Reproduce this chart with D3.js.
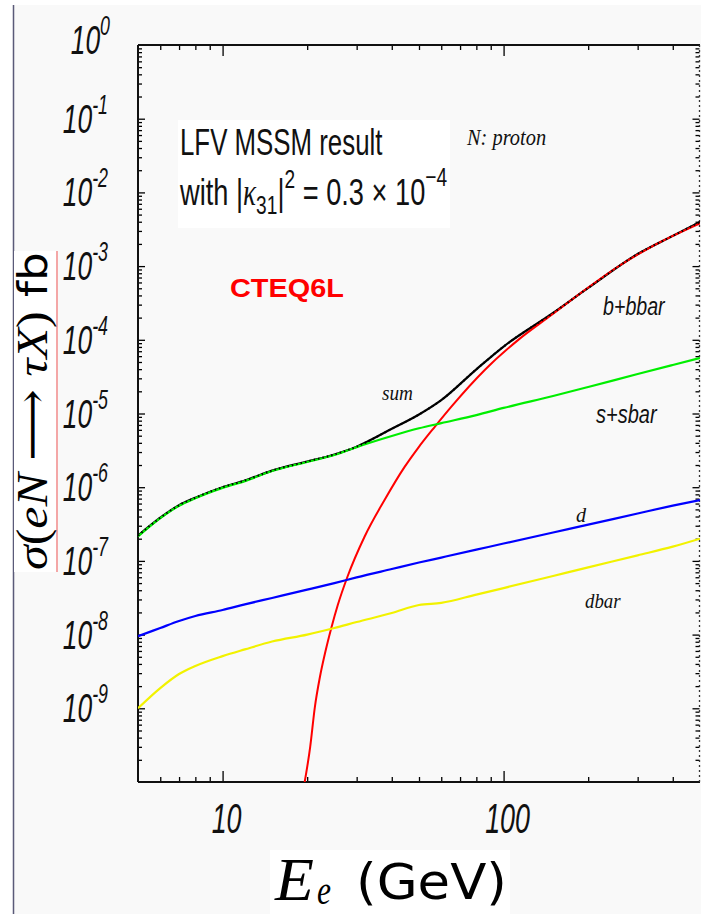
<!DOCTYPE html>
<html><head><meta charset="utf-8">
<script src="https://cdn.jsdelivr.net/npm/d3@7"></script>
<style>html,body{margin:0;padding:0;background:#fff;} svg{display:block}</style>
</head><body><svg id="c" width="701" height="914"></svg>
<script>
// ---- data ----
const energies = [5,6,7,8,10,12,15,20,25,30,40,50,60,80,100,150,200,300,400,500];
const sSbar  = [2.15e-7,3.8e-7,5.6e-7,7.1e-7,9.8e-7,1.21e-6,1.66e-6,2.2e-6,2.73e-6,3.5e-6,4.95e-6,6.3e-6,7.4e-6,9.5e-6,1.19e-5,1.73e-5,2.29e-5,3.43e-5,4.55e-5,5.66e-5];
const dQuark = [9.5e-9,1.23e-8,1.53e-8,1.79e-8,2.16e-8,2.57e-8,3.14e-8,4.07e-8,5.0e-8,5.97e-8,7.76e-8,9.5e-8,1.11e-7,1.42e-7,1.72e-7,2.43e-7,3.1e-7,4.4e-7,5.62e-7,6.7e-7];
const dBar   = [1.0e-9,1.88e-9,2.92e-9,3.75e-9,5.1e-9,6.3e-9,8.05e-9,1.0e-8,1.23e-8,1.48e-8,1.96e-8,2.52e-8,2.69e-8,3.49e-8,4.28e-8,6.25e-8,8.18e-8,1.19e-7,1.56e-7,2.0e-7];
const sumAll = [2.2e-7,3.85e-7,5.7e-7,7.2e-7,1.0e-6,1.23e-6,1.68e-6,2.23e-6,2.78e-6,3.55e-6,6.2e-6,9.7e-6,1.52e-5,3.98e-5,8.1e-5,2.31e-4,5.05e-4,1.46e-3,2.57e-3,3.98e-3];
const bEnergies = [19.5,20.5,21.3,22.2,23.2,24.4,25.7,27.8,32,37.7,44.5,49.6,56.9,65.2,85.7,112.5,148,194.5,255,335.5,500];
const bBbar  = [9e-11,3.0e-10,1.04e-9,2.66e-9,5.8e-9,1.25e-8,2.52e-8,6.05e-8,2.13e-7,6.7e-7,1.9e-6,3.4e-6,6.6e-6,1.24e-5,3.9e-5,9.9e-5,2.17e-4,4.74e-4,9.8e-4,1.83e-3,3.8e-3];
const yExponents = [0,-1,-2,-3,-4,-5,-6,-7,-8,-9];
const xTickLabels = [10,100];
const seriesLabels = ["b+bbar","s+sbar","sum","d","dbar"];

// ---- layout ----
const svg = d3.select("#c");
const L = 138, R = 700, T = 45, B = 782;
const x = d3.scaleLog().domain([5,500]).range([L,R]);
const y = d3.scaleLog().domain([1e-10,1]).range([B,T]);

svg.append("rect").attr("x",0).attr("y",0).attr("width",701).attr("height",914).attr("fill","#fff");
svg.append("rect").attr("x",13).attr("y",5).attr("width",688).attr("height",909).attr("fill","#f9f9f9");
svg.append("line").attr("x1",13.5).attr("x2",13.5).attr("y1",5).attr("y2",914).attr("stroke","#5a5a78").attr("stroke-width",1.5);

function fitScale(textSel, w){ const b = textSel.node().getBBox(); return w / b.width; }

// ---- ticks ----
const minorX = [6,7,8,9,20,30,40,50,60,70,80,90,200,300,400];
const majorY = d3.range(-9,0).map(e=>Math.pow(10,e));
const minorY = [];
for (let e=-10;e<0;e++) for (let k=2;k<=9;k++) minorY.push(k*Math.pow(10,e));

function drawAxis(axis, transform){
  const g = svg.append("g").attr("transform",transform).call(axis);
  g.select(".domain").remove();
  g.selectAll("text").remove();
  g.selectAll("line").attr("stroke","#000").attr("stroke-width",1.3);
  return g;
}
drawAxis(d3.axisBottom(x).tickValues(xTickLabels).tickSizeInner(-11).tickSizeOuter(0), `translate(0,${B})`);
drawAxis(d3.axisBottom(x).tickValues(minorX).tickSizeInner(-5).tickSizeOuter(0), `translate(0,${B})`);
drawAxis(d3.axisTop(x).tickValues(xTickLabels).tickSizeInner(-11).tickSizeOuter(0), `translate(0,${T})`);
drawAxis(d3.axisTop(x).tickValues(minorX).tickSizeInner(-5).tickSizeOuter(0), `translate(0,${T})`);
drawAxis(d3.axisLeft(y).tickValues(majorY).tickSizeInner(-7).tickSizeOuter(0), `translate(${L},0)`);
drawAxis(d3.axisLeft(y).tickValues(minorY).tickSizeInner(-4).tickSizeOuter(0), `translate(${L},0)`);
drawAxis(d3.axisRight(y).tickValues(majorY).tickSizeInner(-7).tickSizeOuter(0), `translate(${R-0.5},0)`);
drawAxis(d3.axisRight(y).tickValues(minorY).tickSizeInner(-4).tickSizeOuter(0), `translate(${R-0.5},0)`);

// frame
svg.append("line").attr("x1",L).attr("x2",R).attr("y1",B).attr("y2",B).attr("stroke","#111").attr("stroke-width",2.2);
svg.append("line").attr("x1",L).attr("x2",R).attr("y1",T).attr("y2",T).attr("stroke","#111").attr("stroke-width",2);
svg.append("line").attr("x1",L).attr("x2",L).attr("y1",T).attr("y2",B).attr("stroke","#111").attr("stroke-width",2);
svg.append("line").attr("x1",R-0.5).attr("x2",R-0.5).attr("y1",T).attr("y2",B).attr("stroke","#333").attr("stroke-width",1.3).attr("stroke-dasharray","2,3");

// ---- curves ----
svg.append("clipPath").attr("id","clip").append("rect").attr("x",L).attr("y",T).attr("width",R-L).attr("height",B-T);
const cg = svg.append("g").attr("clip-path","url(#clip)");
const line = d3.line().x(d=>x(d[0])).y(d=>y(d[1])).curve(d3.curveMonotoneX);
const zip = (xs,ys)=>xs.map((v,i)=>[v,ys[i]]);
function draw(xs,ys,color,w,dash){
  const p = cg.append("path").datum(zip(xs,ys)).attr("d",line).attr("fill","none")
    .attr("stroke",color).attr("stroke-width",w).attr("stroke-linejoin","round");
  if (dash) p.attr("stroke-dasharray",dash);
}
draw(energies,sumAll,"#000",2.2);
draw(bEnergies,bBbar,"#ff0000",2);
draw(energies,sSbar,"#00ee00",2.2);
draw(energies,dQuark,"#0000ff",2.2);
draw(energies,dBar,"#f2f200",2.2);
draw(energies,sumAll,"#000",2,"1.5,3");

// ---- tick labels ----
yExponents.forEach(e=>{
  const off = e===0 ? 9 : 14;
  const g = svg.append("g").attr("transform",`translate(${e===0?110:108},${y(Math.pow(10,e))+off}) scale(0.66,1)`);
  const t = g.append("text").attr("text-anchor","end").attr("font-family","Liberation Sans, Arial, sans-serif")
    .attr("font-style","italic").attr("font-size",40).attr("fill","#111");
  t.append("tspan").text("10");
  t.append("tspan").attr("font-size",27).attr("dy",-19).text(e===0?"0":"-"+(-e));
});
xTickLabels.forEach(v=>{
  const g = svg.append("g").attr("transform",`translate(${x(v)+4},833) scale(0.64,1)`);
  g.append("text").attr("text-anchor","middle").attr("font-family","Liberation Sans, Arial, sans-serif")
    .attr("font-style","italic").attr("font-size",42).attr("fill","#111").text(v);
});

// ---- y title ----
svg.append("rect").attr("x",14).attr("y",251).attr("width",42).attr("height",321).attr("fill","#fff");
svg.append("line").attr("x1",57).attr("x2",57).attr("y1",251).attr("y2",572).attr("stroke","#f07070").attr("stroke-width",1.2);
{
  const g = svg.append("g");
  const t = g.append("text").attr("font-family","Liberation Serif, 'DejaVu Serif', serif").attr("font-size",44).attr("fill","#000");
  t.append("tspan").attr("font-style","italic").text("σ");
  t.append("tspan").text("(");
  t.append("tspan").attr("font-style","italic").text("eN");
  t.append("tspan").text(" ⟶ ");
  t.append("tspan").attr("font-style","italic").text("τX");
  t.append("tspan").text(")");
  t.append("tspan").attr("font-family","DejaVu Sans, sans-serif").attr("font-size",40).text(" fb");
  const s = fitScale(t, 318);
  g.attr("transform",`translate(47,570) rotate(-90) scale(${s},1)`);
}

// ---- x title ----
svg.append("rect").attr("x",270).attr("y",850).attr("width",240).attr("height",64).attr("fill","#fff");
{
  const g = svg.append("g");
  const t = g.append("text").attr("font-family","Liberation Serif, serif").attr("font-style","italic").attr("font-size",62).text("E");
  g.attr("transform",`translate(275,900) scale(${fitScale(t,40)},1)`);
  const g2 = svg.append("g");
  const t2 = g2.append("text").attr("font-family","Liberation Serif, serif").attr("font-style","italic").attr("font-size",40).text("e");
  g2.attr("transform",`translate(317,904) scale(${fitScale(t2,14)},1)`);
  const g3 = svg.append("g");
  const t3 = g3.append("text").attr("font-family","DejaVu Sans, sans-serif").attr("font-size",50).text("(GeV)");
  g3.attr("transform",`translate(356,899) scale(${fitScale(t3,151)},1)`);
}

// ---- annotation box ----
svg.append("rect").attr("x",178).attr("y",120).attr("width",272).attr("height",108).attr("fill","#fff");
{
  const g = svg.append("g");
  const t = g.append("text").attr("font-family","Liberation Sans, Arial, sans-serif").attr("font-size",37).attr("fill","#111").text("LFV MSSM result");
  g.attr("transform",`translate(180,155) scale(${fitScale(t,203)},1)`);
  const g2 = svg.append("g");
  const t2 = g2.append("text").attr("font-family","Liberation Sans, Arial, sans-serif").attr("font-size",37).attr("fill","#111");
  t2.append("tspan").text("with |");
  t2.append("tspan").attr("font-family","Liberation Serif, serif").attr("font-style","italic").text("κ");
  t2.append("tspan").attr("font-size",26).attr("dy",9).text("31");
  t2.append("tspan").attr("dy",-9).text("|");
  t2.append("tspan").attr("font-size",26).attr("dy",-17).text("2");
  t2.append("tspan").attr("dy",17).text(" = 0.3 × 10");
  t2.append("tspan").attr("font-size",26).attr("dy",-19).text("−4");
  g2.attr("transform",`translate(180,205) scale(${fitScale(t2,268)},1)`);
}

// ---- other labels ----
function label(txt, x0, y0, w, opts){
  const g = svg.append("g");
  const t = g.append("text").attr("font-family",opts.family).attr("font-size",opts.size)
    .attr("font-style",opts.style||"normal").attr("font-weight",opts.weight||"normal")
    .attr("fill",opts.fill||"#111").text(txt);
  g.attr("transform",`translate(${x0},${y0}) scale(${fitScale(t,w)},1)`);
}
const serifI = {family:"Liberation Serif, serif", style:"italic", size:24};
const sansI = {family:"Liberation Sans, Arial, sans-serif", style:"italic", size:25};
label("N: proton", 467, 145, 80, serifI);
label("CTEQ6L", 230, 297, 114, {family:"Liberation Sans, Arial, sans-serif", weight:"bold", size:26, fill:"#ff0000"});
label(seriesLabels[0], 603, 315, 63, sansI);
label(seriesLabels[1], 596, 423, 62, sansI);
label(seriesLabels[2], 382, 400, 31, {family:"Liberation Serif, serif", style:"italic", size:22});
label(seriesLabels[3], 576, 522, 11, {family:"Liberation Serif, serif", style:"italic", size:22});
label(seriesLabels[4], 585, 608, 36, {family:"Liberation Serif, serif", style:"italic", size:22});
</script></body></html>
